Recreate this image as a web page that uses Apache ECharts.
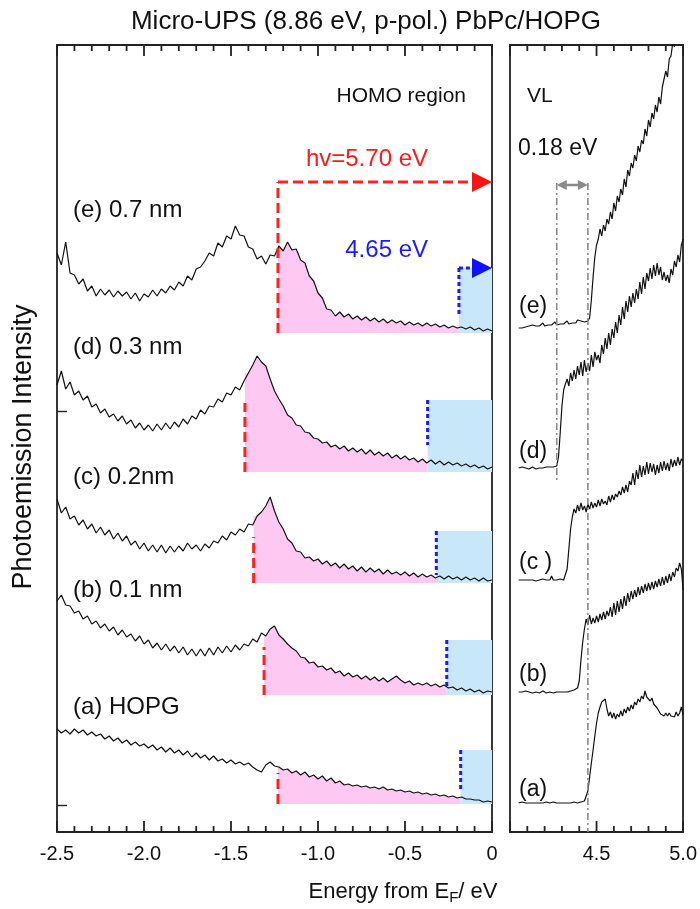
<!DOCTYPE html>
<html><head><meta charset="utf-8">
<script src="https://cdn.jsdelivr.net/npm/echarts@6/dist/echarts.min.js"></script>
<style>html,body{margin:0;padding:0;background:#fff}#c{width:700px;height:909px}</style>
</head><body><div id="c"></div>
<script>
// ---------- data ----------
const homoStart = -2.5, homoStep = 0.025;   // HOMO-region energy grid (eV from EF)
const vlStart = 4.05, vlStep = 0.01;        // VL-region energy grid (eV)
const sampleLabels = ['(a) HOPG','(b) 0.1 nm','(c) 0.2nm','(d) 0.3 nm','(e) 0.7 nm'];
const vlLabels = ['(a)','(b)','(c )','(d)','(e)'];

const homoMajorTicks = [-2.5, -2.0, -1.5, -1.0, -0.5, 0];
const homoMinorTicks = [-2.4,-2.3,-2.2,-2.1,-1.9,-1.8,-1.7,-1.6,-1.4,-1.3,-1.2,-1.1,-0.9,-0.8,-0.7,-0.6,-0.4,-0.3,-0.2,-0.1];
const vlMajorTicks = [4.0, 4.5, 5.0];
const vlMinorTicks = [4.1,4.2,4.3,4.4,4.6,4.7,4.8,4.9];

const homoA = [7.6,7.2,7.5,7.1,7.6,7.2,7.5,7.0,7.3,6.9,
 7.1,6.6,6.9,6.4,6.7,6.2,6.5,6.0,6.3,5.9,
 6.1,5.7,6.0,5.5,5.8,5.3,5.7,5.2,5.5,5.0,
 5.4,4.8,5.2,4.7,5.0,4.5,4.9,4.4,4.6,4.2,
 4.5,4.1,4.3,4.0,4.2,3.8,3.5,3.3,4.0,4.3,
 3.9,3.8,3.5,3.6,3.2,3.4,3.0,3.3,2.8,3.0,
 2.6,2.9,2.4,2.7,2.2,2.4,2.0,2.1,1.9,2.0,
 1.8,1.9,1.7,1.8,1.6,1.8,1.5,1.6,1.4,1.5,
 1.3,1.4,1.2,1.3,1.1,1.2,1.0,1.1,0.9,1.0,
 0.8,0.9,0.7,0.8,0.6,0.6,0.5,0.5,0.3,0.4,
 0.3];
const homoB = [20.4,21.0,20.0,19.9,19.2,19.4,18.6,18.9,18.1,18.4,
 17.7,18.1,17.4,17.8,17.0,17.5,16.8,17.1,16.4,16.9,
 16.1,16.5,15.7,16.2,15.5,16.1,15.4,15.9,15.2,15.8,
 15.0,15.6,14.9,15.6,14.9,15.7,15.0,15.8,15.2,15.9,
 15.3,16.0,15.5,16.1,15.9,16.6,16.3,17.2,16.9,17.6,
 17.9,17.0,16.6,16.1,15.7,15.4,14.8,14.7,14.2,14.3,
 13.8,13.9,13.5,13.7,13.2,13.4,12.9,13.2,12.8,13.0,
 12.6,12.9,12.5,12.8,12.4,12.7,12.3,12.6,12.9,12.5,
 12.2,12.4,12.0,12.2,12.0,12.2,11.9,12.1,11.8,12.0,
 11.7,11.8,11.5,11.7,11.4,11.6,11.3,11.5,11.2,11.4,
 11.3];
const homoC = [30.6,29.2,29.8,28.6,28.9,28.0,28.5,27.6,28.1,27.2,
 27.8,27.0,27.5,26.6,27.2,26.4,26.9,26.0,26.4,25.6,
 26.2,25.4,26.0,25.3,26.0,25.2,25.9,25.3,25.9,25.4,
 26.2,25.6,26.0,25.4,26.1,25.7,26.4,26.2,26.9,26.5,
 27.3,27.0,27.6,27.3,28.1,28.0,28.9,29.3,29.9,30.8,
 29.4,28.3,27.6,26.6,26.2,25.4,25.3,24.7,24.8,24.4,
 24.6,24.1,24.4,23.9,24.2,23.7,24.1,23.6,23.9,23.4,
 23.8,23.3,23.7,23.3,23.6,23.1,23.5,23.1,23.3,23.0,
 23.3,22.9,23.2,22.8,23.1,22.8,23.0,22.7,22.9,22.6,
 22.9,22.6,22.8,22.5,22.8,22.5,22.7,22.4,22.7,22.4,
 22.5];
const homoD = [42.0,43.4,41.6,42.3,41.0,41.4,40.5,40.9,39.8,40.1,
 39.2,39.6,38.8,39.1,38.4,38.9,38.1,38.5,37.7,38.2,
 37.5,38.0,37.4,38.1,37.5,38.2,37.6,38.3,37.8,38.6,
 38.1,38.9,38.6,39.5,39.1,39.9,39.8,40.6,40.3,41.2,
 41.0,41.8,41.5,42.4,43.2,44.0,44.9,44.3,43.9,42.6,
 41.4,40.6,39.9,39.0,38.7,38.0,37.9,37.3,37.2,36.7,
 36.6,36.2,36.3,35.8,36.0,35.6,35.9,35.4,35.7,35.3,
 35.6,35.1,35.5,35.0,35.3,34.9,35.2,34.7,35.0,34.6,
 34.9,34.5,34.7,34.3,34.6,34.2,34.5,34.1,34.4,34.0,
 34.3,34.0,34.2,33.9,34.1,33.8,34.0,33.7,33.9,33.6,
 33.8];
const homoE = [55.2,54.0,56.3,53.2,53.0,52.1,52.6,51.4,51.9,50.9,
 51.6,51.0,51.5,50.8,51.4,50.9,51.3,50.6,51.2,50.4,
 51.1,50.8,51.5,50.9,51.6,51.2,51.9,51.5,52.3,51.9,
 52.9,52.5,53.6,53.8,54.4,55.2,54.9,56.2,55.8,56.9,
 56.6,57.9,57.0,56.9,55.8,55.6,54.6,54.9,54.1,55.0,
 54.9,55.9,55.4,56.3,55.5,55.6,54.5,54.2,52.9,52.4,
 51.2,50.7,49.6,49.5,48.9,49.3,48.8,49.1,48.6,48.9,
 48.5,48.8,48.4,48.7,48.3,48.6,48.2,48.5,48.2,48.4,
 48.0,48.3,48.0,48.2,47.9,48.2,47.9,48.1,47.8,48.0,
 47.7,47.9,47.7,47.8,47.6,47.8,47.5,47.7,47.4,47.6,
 47.4];

const vlA = [0.2,0.2,0.3,0.2,0.2,0.1,0.2,0.3,0.2,0.2,
 0.2,0.3,0.2,0.1,0.2,0.2,0.3,0.2,0.2,0.2,
 0.3,0.2,0.2,0.1,0.2,0.3,0.2,0.2,0.2,0.3,
 0.2,0.2,0.3,0.2,0.2,0.3,0.3,0.3,0.4,0.5,
 1.4,2.8,4.2,5.5,6.9,8.2,9.2,9.8,10.3,10.4,
 10.6,9.6,8.9,9.3,8.7,9.2,8.6,9.1,8.8,9.4,
 8.9,9.6,9.2,9.8,9.4,10.0,9.6,10.3,10.0,10.6,
 10.3,10.9,10.6,11.4,10.8,11.0,10.4,10.7,10.1,10.3,
 9.7,9.8,9.1,9.3,8.9,9.2,8.9,9.2,8.9,9.1,
 8.8,9.3,8.9,9.2,9.8,9.0];
const vlB = [11.3,11.2,11.3,11.3,11.4,11.2,11.3,11.3,11.2,11.4,
 11.3,11.3,11.2,11.3,11.4,11.3,11.2,11.3,11.3,11.4,
 11.2,11.3,11.3,11.4,11.3,11.2,11.3,11.4,11.3,11.3,
 11.4,11.5,11.5,11.5,11.7,12.4,14.5,16.3,17.6,18.6,
 18.0,19.0,18.1,18.7,18.2,18.9,18.3,19.1,18.5,19.3,
 18.6,19.4,18.9,19.8,18.8,20.2,19.0,20.4,19.3,20.6,
 19.6,20.9,19.9,21.2,20.3,21.4,20.6,21.5,20.8,21.8,
 21.0,21.9,21.2,22.1,21.4,22.2,21.5,22.3,21.6,22.4,
 21.8,22.6,21.9,22.8,22.0,22.9,22.2,23.1,22.4,23.3,
 22.8,23.7,23.4,24.2,23.6,21.5];
const vlC = [22.5,22.4,22.5,22.6,22.5,22.4,22.5,22.6,22.5,22.5,
 22.4,22.6,22.5,22.5,22.6,22.4,22.5,22.6,22.5,22.9,
 22.5,22.4,22.5,22.5,22.6,22.5,22.5,22.7,23.6,25.6,
 27.6,28.8,29.6,29.2,30.0,29.4,30.2,29.5,29.9,29.3,
 30.1,29.6,30.3,29.7,30.2,29.8,30.5,29.9,30.6,30.1,
 30.4,30.0,30.9,30.3,31.0,30.5,31.1,30.8,31.4,31.0,
 31.8,31.2,32.0,31.3,32.4,32.0,33.2,32.0,33.5,32.6,
 34.0,32.8,33.9,33.0,34.3,33.1,34.2,33.3,34.1,33.0,
 34.0,33.2,34.3,33.4,34.4,33.5,34.2,33.4,34.6,33.8,
 34.5,33.9,34.8,34.0,34.6,34.4];
const vlD = [33.7,33.6,33.8,33.7,33.7,33.8,33.6,33.7,33.8,33.7,
 33.6,33.8,33.7,33.8,33.7,33.6,33.8,33.7,33.8,33.7,
 33.8,33.7,33.9,34.8,37.2,39.9,41.5,42.1,42.6,41.9,
 43.2,42.4,43.5,42.6,43.9,43.0,44.3,42.9,44.5,43.3,
 44.2,43.4,45.0,43.8,45.3,44.5,45.0,44.2,46.0,45.1,
 46.7,45.6,47.2,46.0,47.6,46.7,48.3,47.2,49.0,48.0,
 49.8,48.6,50.4,49.3,50.9,49.8,51.2,50.2,51.6,50.6,
 52.3,51.1,52.8,51.6,53.2,52.4,53.7,52.6,54.0,52.9,
 54.2,53.0,53.8,52.5,53.3,52.4,53.0,52.2,53.6,53.0,
 54.4,53.8,55.0,54.3,56.0,56.6];
const vlE = [47.7,47.8,47.7,47.9,47.8,47.8,47.9,47.8,48.0,47.9,
 47.9,48.1,47.9,48.0,48.2,47.9,48.1,48.0,48.2,48.0,
 48.1,48.3,48.0,48.2,48.1,48.3,48.1,48.2,48.4,48.1,
 48.3,48.2,48.4,48.2,48.5,48.3,48.4,48.6,48.3,48.5,
 48.4,48.7,50.5,52.8,54.8,56.0,56.6,57.6,56.9,58.0,
 57.4,58.6,58.1,59.3,58.6,60.2,59.4,60.9,60.3,61.6,
 61.0,62.6,61.8,63.5,62.9,64.2,63.7,65.0,64.4,65.9,
 65.3,66.5,66.1,67.6,66.9,68.5,67.8,69.2,68.6,70.0,
 69.3,70.8,70.1,71.8,71.6,73.4,72.8,74.6,74.9,76.2,
 75.8,77.5,76.6,78.0,77.2,78.4];

// annotation values (a..e)
const redX = [-1.23, -1.31, -1.37, -1.42, -1.23];      // hv = 5.70 eV threshold
const blueX = [-0.18, -0.26, -0.32, -0.37, -0.19];     // 4.65 eV threshold
const baseY = [0.1, 11.0, 22.2, 33.3, 47.2];
const blueTop = [5.5, 16.5, 27.4, 40.5, 53.7];
const redTop = [3.2, 15.8, 26.8, 40.2, 62.3];
const blueBottom = [1.5, 11.7, 23.0, 36.0, 48.8];
const hvArrowY = 62.3;
const vlX = [4.27, 4.45];
const vlTopY = 62.2;
const vlBottomY = [32.2, -2.7];
const shiftArrowY = 62.0;
const yTickValues = [0, 39.4];
const yMin = -2.7, yMax = 76;

// ---------- build ----------
const homoSpectra = [homoA, homoB, homoC, homoD, homoE];
const vlSpectra = [vlA, vlB, vlC, vlD, vlE];
const homoEnergy = i => +(homoStart + i * homoStep).toFixed(3);
const vlEnergy = i => +(vlStart + i * vlStep).toFixed(3);

const FONT = '"Liberation Sans", Arial, sans-serif';
const AX = '#222';

// tick line elements for a custom renderItem (bottom + top frame)
function tickEls(api, majors, minors) {
  const out = [];
  const st = { stroke: AX, lineWidth: 1.8 };
  majors.map(v => [v, 11]).concat(minors.map(v => [v, 6])).forEach(p => {
    const b = api.coord([p[0], yMin]), t = api.coord([p[0], yMax]);
    out.push({ type: 'line', z2: 50, shape: { x1: b[0], y1: b[1], x2: b[0], y2: b[1] - p[1] }, style: st });
    out.push({ type: 'line', z2: 50, shape: { x1: t[0], y1: t[1], x2: t[0], y2: t[1] + p[1] }, style: st });
  });
  return out;
}

const series = [];

series.push({
  type: 'custom', xAxisIndex: 0, yAxisIndex: 0, z: 1, clip: true, silent: true,
  data: redX.map((x, k) => [x, baseY[k]]),
  renderItem: function (params, api) {
    const k = params.dataIndex;
    const pts = [];
    homoSpectra[k].forEach((v, i) => {
      const e = homoEnergy(i);
      if (e >= redX[k] - 1e-6 && e <= blueX[k] + 1e-6) pts.push([e, v]);
    });
    const poly = [api.coord([redX[k], baseY[k]]), api.coord([redX[k], pts[0][1]])];
    pts.forEach(p => poly.push(api.coord(p)));
    poly.push(api.coord([blueX[k], pts[pts.length - 1][1]]));
    poly.push(api.coord([blueX[k], baseY[k]]));
    const p1 = api.coord([blueX[k], blueTop[k]]);
    const p2 = api.coord([0, baseY[k]]);
    return { type: 'group', children: [
      { type: 'polygon', shape: { points: poly }, style: { fill: '#fdc9f3' } },
      { type: 'rect', shape: { x: p1[0], y: p1[1], width: p2[0] - p1[0], height: p2[1] - p1[1] }, style: { fill: '#c8e7f9' } }
    ]};
  }
});

series.push({
  type: 'custom', xAxisIndex: 0, yAxisIndex: 0, z: 6, clip: false, silent: true,
  data: redX.map((x, k) => [x, baseY[k]]),
  renderItem: function (params, api) {
    const k = params.dataIndex;
    const r1 = api.coord([redX[k], baseY[k]]), r2 = api.coord([redX[k], redTop[k]]);
    const b1 = api.coord([blueX[k], blueTop[k]]), b2 = api.coord([blueX[k], blueBottom[k]]);
    let ch = [
      { type: 'line', shape: { x1: r1[0], y1: r1[1], x2: r2[0], y2: r2[1] }, style: { stroke: '#ff2222', lineWidth: 3, lineDash: [10, 5] } },
      { type: 'line', shape: { x1: b1[0], y1: b1[1], x2: b2[0], y2: b2[1] }, style: { stroke: '#1a1aff', lineWidth: 3, lineDash: [4, 3] } }
    ];
    if (k === 0) ch = ch.concat(tickEls(api, homoMajorTicks, homoMinorTicks));
    if (k === 4) {
      const h1 = api.coord([redX[k], hvArrowY]), tip = api.coord([0, hvArrowY]);
      ch.push({ type: 'line', shape: { x1: h1[0], y1: h1[1], x2: tip[0] - 18, y2: tip[1] }, style: { stroke: '#ff2222', lineWidth: 3, lineDash: [10, 5] } });
      ch.push({ type: 'polygon', shape: { points: [[tip[0], tip[1]], [tip[0] - 20, tip[1] - 10], [tip[0] - 20, tip[1] + 10]] }, style: { fill: '#ff1111' } });
      const tip2 = api.coord([0, blueTop[k]]);
      ch.push({ type: 'line', shape: { x1: b1[0], y1: b1[1], x2: tip2[0] - 18, y2: tip2[1] }, style: { stroke: '#1a1aff', lineWidth: 3, lineDash: [4, 3] } });
      ch.push({ type: 'polygon', shape: { points: [[tip2[0], tip2[1]], [tip2[0] - 20, tip2[1] - 10], [tip2[0] - 20, tip2[1] + 10]] }, style: { fill: '#1111ff' } });
    }
    return { type: 'group', children: ch };
  }
});

homoSpectra.forEach((arr, k) => {
  series.push({
    type: 'line', name: sampleLabels[k], xAxisIndex: 0, yAxisIndex: 0, z: 5,
    showSymbol: false, symbol: 'none', animation: false, silent: true,
    lineStyle: { color: '#111', width: 1.2 },
    data: arr.map((v, i) => [homoEnergy(i), v])
  });
});

series.push({
  type: 'custom', xAxisIndex: 1, yAxisIndex: 2, z: 6, clip: false, silent: true,
  data: [[vlX[0], vlTopY]],
  renderItem: function (params, api) {
    let ch = [];
    vlX.forEach((x, j) => {
      const a = api.coord([x, vlTopY]), b = api.coord([x, vlBottomY[j]]);
      ch.push({ type: 'line', shape: { x1: a[0], y1: a[1], x2: b[0], y2: b[1] }, style: { stroke: '#8a8a8a', lineWidth: 1.6, lineDash: [7, 3, 2, 3] } });
    });
    const l = api.coord([vlX[0], shiftArrowY]), r = api.coord([vlX[1], shiftArrowY]);
    ch.push({ type: 'line', shape: { x1: l[0] + 8, y1: l[1], x2: r[0] - 8, y2: r[1] }, style: { stroke: '#8a8a8a', lineWidth: 2.5 } });
    ch.push({ type: 'polygon', shape: { points: [[l[0], l[1]], [l[0] + 10, l[1] - 5], [l[0] + 10, l[1] + 5]] }, style: { fill: '#8a8a8a' } });
    ch.push({ type: 'polygon', shape: { points: [[r[0], r[1]], [r[0] - 10, r[1] - 5], [r[0] - 10, r[1] + 5]] }, style: { fill: '#8a8a8a' } });
    ch = ch.concat(tickEls(api, vlMajorTicks, vlMinorTicks));
    return { type: 'group', children: ch };
  }
});

vlSpectra.forEach((arr, k) => {
  series.push({
    type: 'line', name: vlLabels[k], xAxisIndex: 1, yAxisIndex: 2, z: 5,
    showSymbol: false, symbol: 'none', animation: false, silent: true,
    lineStyle: { color: '#111', width: 1.2 },
    data: arr.map((v, i) => [vlEnergy(i), v])
  });
});

const lineOn = { show: true, onZero: false, lineStyle: { color: AX, width: 1.8 } };
const labelStyle = { fontFamily: FONT, fontSize: 20, color: '#111', margin: 12 };
const fmtLeft = v => (Math.abs(v) < 1e-9 ? '0' : v.toFixed(1));
const fmtRight = v => (v < 4.25 ? '' : v.toFixed(1));
const xAxis = [
  { type: 'value', gridIndex: 0, position: 'bottom', min: -2.5, max: 0, interval: 0.5,
    axisLine: lineOn, axisTick: { show: false }, splitLine: { show: false },
    axisLabel: Object.assign({ showMinLabel: true, showMaxLabel: true, formatter: fmtLeft }, labelStyle) },
  { type: 'value', gridIndex: 1, position: 'bottom', min: 4.0, max: 5.0, interval: 0.5,
    axisLine: lineOn, axisTick: { show: false }, splitLine: { show: false },
    axisLabel: Object.assign({ showMinLabel: true, showMaxLabel: true, formatter: fmtRight }, labelStyle) },
  { type: 'value', gridIndex: 0, position: 'top', min: -2.5, max: 0, interval: 0.5,
    axisLine: lineOn, axisTick: { show: false }, splitLine: { show: false }, axisLabel: { show: false } },
  { type: 'value', gridIndex: 1, position: 'top', min: 4.0, max: 5.0, interval: 0.5,
    axisLine: lineOn, axisTick: { show: false }, splitLine: { show: false }, axisLabel: { show: false } }
];
const yBase = { type: 'value', min: yMin, max: yMax, splitLine: { show: false }, axisLabel: { show: false }, axisLine: lineOn };
const yAxis = [
  Object.assign({}, yBase, { gridIndex: 0, position: 'left',
    axisTick: { show: true, inside: true, length: 10, customValues: yTickValues, lineStyle: { color: AX, width: 1.4 } } }),
  Object.assign({}, yBase, { gridIndex: 0, position: 'right', axisTick: { show: false } }),
  Object.assign({}, yBase, { gridIndex: 1, position: 'left', axisTick: { show: false } }),
  Object.assign({}, yBase, { gridIndex: 1, position: 'right', axisTick: { show: false } })
];

function txt(text, x, y, size, color, align, extra) {
  return Object.assign({ type: 'text', x: x, y: y, silent: true, z: 20,
    style: { text: text, font: size + 'px ' + FONT, fill: color || '#111', align: align || 'left', verticalAlign: 'middle' } }, extra || {});
}

const graphic = [
  txt('Micro-UPS (8.86 eV, p-pol.) PbPc/HOPG', 366, 22, 26, '#111', 'center'),
  txt('Photoemission Intensity', 24, 447, 27, '#111', 'center', { rotation: Math.PI / 2 }),
  { type: 'text', x: 403, y: 892, silent: true, z: 20,
    style: { text: '{n|Energy from E}{s|F}{n|/ eV}', align: 'center', verticalAlign: 'middle', fill: '#111',
      rich: { n: { fontFamily: FONT, fontSize: 22, lineHeight: 26, verticalAlign: 'middle' },
              s: { fontFamily: FONT, fontSize: 15, lineHeight: 26, verticalAlign: 'bottom', padding: [10, 0, 0, 0] } } } },
  txt('HOMO region', 466, 96, 21, '#111', 'right'),
  txt('hv=5.70 eV', 428, 159, 24, '#ff1a1a', 'right'),
  txt('4.65 eV', 428, 250, 24, '#1a1aff', 'right'),
  txt('VL', 527, 96, 21, '#111', 'left'),
  txt('0.18 eV', 518, 149, 23, '#111', 'left')
];
const homoLabelY = [707, 590, 477, 347, 210];
sampleLabels.forEach((s, k) => graphic.push(txt(s, 73, homoLabelY[k], 24, '#111', 'left')));
const vlLabelY = [790, 675, 563, 452, 307];
vlLabels.forEach((s, k) => graphic.push(txt(s, 519, vlLabelY[k], 23, '#111', 'left')));

const chart = echarts.init(document.getElementById('c'), null, { renderer: 'canvas' });
chart.setOption({
  animation: false,
  backgroundColor: '#fff',
  grid: [
    { left: 57, top: 45, width: 435, height: 787 },
    { left: 510, top: 45, width: 174, height: 787 }
  ],
  xAxis: xAxis,
  yAxis: yAxis,
  series: series,
  graphic: graphic
});
</script></body></html>
